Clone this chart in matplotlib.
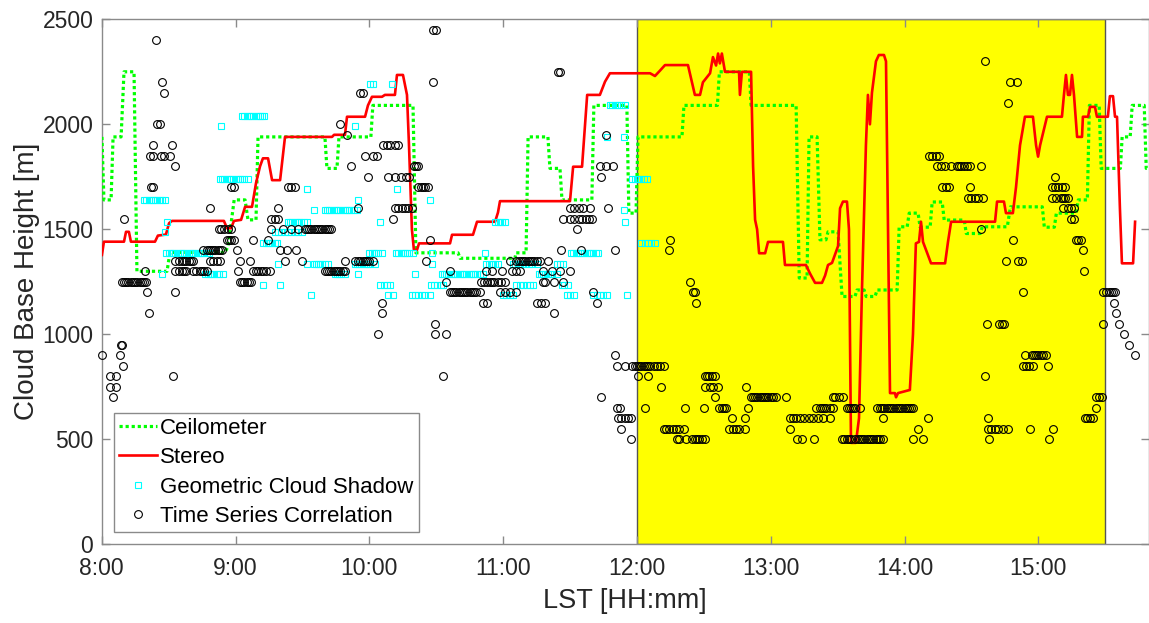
import matplotlib
matplotlib.use("Agg")
import matplotlib.pyplot as plt
import numpy as np

plt.rcParams['font.family'] = ['Liberation Sans', 'DejaVu Sans']

# ---------------- data (time in minutes after 08:00, height in m) ----------------
tick_minutes = [0, 60, 120, 180, 240, 300, 360, 420]
tick_labels = ['8:00', '9:00', '10:00', '11:00', '12:00', '13:00', '14:00', '15:00']
y_ticks = [0, 500, 1000, 1500, 2000, 2500]
shade_start, shade_end = 240, 450

ceil_t = [0.1, 1.0, 4.2, 5.1, 8.7, 10.0, 14.5, 15.8, 29.3, 30.6, 55.3, 56.7, 59.4, 64.3,
          65.6, 69.2, 70.1, 100.1, 101.0, 105.5, 106.4, 120.7, 121.6, 139.6, 140.9, 159.8,
          160.7, 185.3, 185.8, 190.3, 191.2, 200.1, 201.0, 205.5, 206.4, 219.8, 220.7,
          235.5, 236.4, 239.6, 240.5, 260.2, 261.1, 276.1, 277.0, 290.4, 291.2, 311.4,
          312.8, 316.3, 317.2, 320.8, 322.1, 324.8, 325.7, 330.2, 332.0, 337.8, 338.7,
          341.9, 342.8, 346.8, 347.7, 356.7, 357.6, 361.2, 362.1, 366.1, 367.0, 371.5,
          372.4, 376.9, 377.8, 386.8, 387.7, 394.0, 394.9, 406.1, 407.5, 421.8, 422.7,
          427.2, 428.1, 437.0, 437.9, 442.0, 442.9, 447.3, 448.2, 456.8, 457.6, 461.2,
          462.1, 467.5, 468.4, 470.6]
ceil_h = [1940, 1640, 1640, 1940, 1940, 2250, 2250, 1300, 1300, 1390, 1390, 1420, 1640, 1640,
          1545, 1545, 1940, 1940, 1790, 1790, 1940, 1940, 2090, 2090, 1388, 1388,
          1362, 1362, 1388, 1388, 1940, 1940, 1790, 1790, 1640, 1640, 2090,
          2090, 1577, 1577, 1940, 1940, 2090, 2090, 2250, 2250, 2090, 2090,
          1268, 1268, 1940, 1940, 1450, 1450, 1488, 1488, 1180, 1180, 1211,
          1211, 1180, 1180, 1211, 1211, 1512, 1512, 1577, 1577, 1510, 1510,
          1630, 1630, 1544, 1544, 1480, 1480, 1512, 1512, 1607, 1607, 1510,
          1510, 1577, 1577, 1640, 1640, 2090, 2090, 1790, 1790, 1940, 1940,
          2090, 2090, 1790, 1790]

stereo_t = [0.1, 1.0, 10.0, 10.9, 12.2, 13.1, 23.9, 25.2, 28.8, 30.2, 31.5, 54.8, 56.2, 58.0,
            59.3, 62.5, 64.3, 67.4, 69.2, 71.0, 72.3, 74.6, 76.4, 80.0, 82.2, 103.3, 104.2,
            109.1, 110.0, 118.1, 119.4, 121.2, 125.7, 127.0, 131.5, 132.4, 135.1, 136.9,
            137.8, 139.1, 140.0, 141.4, 142.3, 156.2, 157.1, 166.5, 168.3, 176.4, 177.7,
            178.6, 210.0, 211.4, 215.4, 217.7, 223.4, 225.7, 227.9, 245.9, 248.1, 250.3,
            252.6, 262.9, 264.7, 266.0, 268.3, 269.6, 272.8, 274.1, 275.5, 276.4, 277.2,
            278.1, 279.5, 285.8, 286.2, 287.1, 291.2, 292.1, 293.0, 293.9, 294.8, 297.5,
            298.8, 305.5, 306.4, 315.8, 317.6, 319.9, 323.0, 324.4, 325.7, 327.5, 330.2,
            331.1, 332.4, 334.2, 335.1, 336.0, 338.2, 339.6, 340.9, 342.7, 343.6, 344.5,
            345.4, 347.2, 348.5, 350.8, 351.7, 352.6, 353.5, 355.7, 356.2, 357.1, 362.4,
            363.8, 365.1, 366.5, 367.4, 368.3, 371.9, 378.2, 379.5, 380.9, 400.6, 401.5,
            404.6, 405.5, 408.6, 410.0, 411.8, 414.0, 417.6, 419.0, 419.9, 420.8, 421.7,
            423.9, 430.6, 431.5, 432.4, 433.3, 434.2, 435.1, 436.0, 437.4, 439.6, 440.0,
            442.3, 443.2, 445.4, 446.3, 451.2, 452.1, 453.5, 454.4, 455.3, 456.6, 457.5,
            462.5, 463.4]
stereo_h = [1378, 1441, 1441, 1488, 1488, 1441, 1441, 1470, 1475, 1529, 1540, 1540, 1505, 1505,
            1540, 1545, 1607, 1607, 1720, 1800, 1838, 1838, 1734, 1734, 1940, 1940, 1950,
            1950, 2036, 2036, 2090, 2131, 2131, 2140, 2140, 2235, 2235, 2140,
            1900, 1500, 1402, 1402, 1433, 1433, 1474, 1474, 1536, 1536, 1580,
            1634, 1634, 1798, 1798, 2140, 2140, 2203, 2243, 2243, 2230, 2255,
            2282, 2282, 2200, 2140, 2140, 2200, 2243, 2320, 2280, 2337, 2290,
            2337, 2250, 2250, 2140, 2250, 2250, 1800, 1545, 1500, 1386, 1386,
            1440, 1440, 1330, 1330, 1290, 1245, 1245, 1280, 1330, 1340, 1420,
            1600, 1632, 1632, 1500, 483, 483, 600, 1200, 1900, 2140, 2000,
            2150, 2300, 2330, 2330, 2300, 1500, 720, 720, 700, 720, 735,
            1000, 1433, 1440, 1536, 1440, 1338, 1338, 1440, 1536, 1536, 1632,
            1632, 1577, 1577, 1700, 1900, 2036, 2036, 1900, 1846, 1900, 1940,
            2036, 2036, 2140, 2235, 2140, 2140, 2235, 2140, 1940, 1940, 2036,
            2036, 2083, 2083, 2036, 2036, 2134, 2134, 2036, 2036, 1600, 1338,
            1338, 1536]

gcs_groups = [
    (2190, [120.5, 121.5, 130]),
    (2090, [228, 229, 230, 231, 232, 233, 234.5]),
    (2040, [63, 64, 65, 66, 67, 68, 69, 70, 71, 72, 73]),
    (1990, [53.5, 113.5]),
    (1940, [226.5, 234]),
    (1740, [53, 54, 55, 56, 57, 58, 59, 60, 61, 62, 63, 64, 65.5,
            238, 239, 240, 241, 242, 243, 244.5]),
    (1690, [92, 132.5]),
    (1640, [19, 20, 21, 22, 23, 24, 25, 26, 27, 28.5, 115, 147]),
    (1590, [95, 100, 101, 102, 103, 104, 105, 106, 107, 108, 109, 110, 111, 112, 113,
            114.5, 234]),
    (1535, [29.5, 83.5, 84.5, 85.5, 86.5, 87.5, 88.5, 89.5, 90.5, 92, 125, 176.5, 177.5,
            178.5, 179.5, 181, 234.5]),
    (1485, [28.5, 77.5, 79, 80.5, 82, 83.5, 85, 86.5, 88, 90]),
    (1435, [72.5, 73.5, 74.5, 75.5, 76.5, 77.5, 78.5, 242, 243.5, 245, 246.5, 248]),
    (1385, [29, 30, 31, 32, 33, 34, 35, 36, 37, 38, 39, 40, 41, 42, 43, 44, 45, 46, 47, 48,
            120, 121, 122, 123, 124, 125.5, 132, 133, 134, 135, 136, 137, 138, 139.5, 148,
            172, 210.5, 211.5, 212.5, 213.5, 214.5, 215.5, 216.5, 217.5, 218.5, 219.5,
            220.5, 221.5, 222.5]),
    (1335, [79, 92, 95, 96, 97, 98, 99, 100, 101.5, 113.5, 114.5, 115.5, 116.5, 117.5,
            118.5, 119.5, 120.5, 122.5, 148, 172.5, 173.5, 174.5, 175.5, 176.5, 177.5,
            184.5, 185.5, 186.5, 187.5, 188.5, 190, 191.5, 193, 195, 204, 205.5, 207]),
    (1285, [27, 46.5, 47.5, 48.5, 49.5, 50.5, 51.5, 52.5, 54.5, 104.5, 105.5, 106.5, 107.5,
            109, 115, 140.5, 152.5, 153.5, 154.5, 155.5, 156.5, 157.5, 158.5, 159.5, 160.5,
            161.5, 162.5, 163.5, 164.5, 165.5, 166.5, 167.5, 168.5, 169.5, 171, 196, 197,
            198, 199, 200, 201, 202, 204]),
    (1235, [72.5, 80, 125, 126.5, 128, 129.5, 147.5, 149, 150.5, 152, 153, 186, 187.5, 189,
            190.5, 192, 193.5, 206.5, 207.5, 209]),
    (1185, [94, 128.5, 130.5, 139, 140.5, 142, 143.5, 145, 147, 180, 181.5, 183, 184.5,
            208.5, 210, 212, 220.5, 222, 223.5, 225, 226.5, 235.5]),
]

tsc_groups = [
    (2450, [148.5, 150]),
    (2400, [24.5]),
    (2300, [396]),
    (2250, [204.5, 205.5]),
    (2200, [27, 148.5, 407.5, 410.5]),
    (2150, [28, 116, 117]),
    (2100, [406.5]),
    (2000, [25, 26, 107]),
    (1950, [110, 226]),
    (1900, [23, 31.5, 126, 128, 129.5, 131.5, 133]),
    (1850, [21.5, 23, 26.5, 28, 30.5, 118, 121.5, 123.5, 371, 372.5, 374, 375.5]),
    (1800, [33, 112, 140, 141, 142, 223.5, 226, 229.5, 374.5, 376.5, 378, 381, 383.5,
            384.5, 385.5, 386.5, 388, 389.5, 394.5]),
    (1750, [119.5, 128.5, 131.5, 134, 136.5, 138, 224, 427.5]),
    (1700, [22, 23, 58, 59.5, 83.5, 85, 86.5, 142, 143, 144, 145, 146.5, 377, 378.5, 380,
            389.5, 426, 427.5, 429, 430.5, 432]),
    (1650, [388.5, 390, 391.5, 393, 395, 426, 428, 430, 431, 432, 433.5]),
    (1600, [48.5, 79, 115, 131.5, 133, 134.5, 136, 137.5, 139, 210, 212, 214, 216, 219, 227,
            431, 433.5, 434.5, 436]),
    (1550, [10, 76, 77.5, 79, 130.5, 207, 210, 212, 214, 215.5, 217, 218.5, 220, 434.5,
            436]),
    (1500, [52.5, 53.5, 55, 56.5, 58, 76, 81.5, 85, 88, 91, 92, 93, 94, 95, 96, 97, 98, 99,
            100, 101, 102, 103, 213, 394.5]),
    (1450, [56, 57, 58, 59.5, 68, 74.5, 147, 255, 408.5, 437, 438, 439]),
    (1400, [45.5, 47, 48, 49, 50, 51, 52, 53, 54, 60.5, 80, 83, 87, 206, 215, 230, 254.5,
            440]),
    (1350, [33, 34.5, 36, 37, 38, 39, 40, 41, 48.5, 50, 51.5, 53, 62, 66.5, 82, 90, 109,
            113.5, 115, 116, 117, 118, 119, 120, 121.5, 145.5, 183, 186, 187, 188, 189, 190,
            191, 192, 193, 194, 195, 196.5, 200, 405.5, 411, 412.5]),
    (1300, [19.5, 33, 34.5, 36, 37, 38, 41, 42.5, 44, 45, 46, 47, 61, 68, 69, 70, 71.5,
            72.5, 73.5, 75.5, 100, 101, 102, 103, 104, 105, 106, 107, 108, 109, 156, 172.5,
            175, 179.5, 184, 186, 187.5, 198, 202, 205.5, 210, 440.5]),
    (1250, [9, 10, 11, 12, 13, 14, 15, 16, 17, 18, 19, 20, 62, 63, 64, 65, 66, 67, 154.5,
            170, 171.5, 173, 174, 175, 176, 177.5, 179, 181, 198, 199, 203, 207, 264]),
    (1200, [20.5, 33, 156, 157, 158, 159, 160, 161, 162, 163, 164, 165, 166, 167, 168,
            169.5, 178.5, 181, 183, 186, 220.5, 265, 266, 413, 449, 450.5, 451.5, 452.5,
            453.5, 454.5]),
    (1150, [125.5, 171, 173, 195, 197, 199, 222, 266.5, 454]),
    (1100, [21, 125.5, 203, 455]),
    (1050, [149.5, 397, 402.5, 403.5, 404.5, 449, 456]),
    (1000, [124, 149.5, 154.5, 458.5]),
    (950, [8.5, 9, 460.5]),
    (900, [0, 8, 230, 414, 417, 418, 419, 420, 421, 422, 423.5, 463.5]),
    (850, [9.5, 231, 234.5, 238, 239, 240, 241, 242, 243, 244, 245, 246, 247.5, 249, 250.5,
           252, 413, 414.5, 416, 417.5, 424.5]),
    (800, [3.5, 6.5, 32, 153, 240.5, 245, 270.5, 271.5, 272.5, 273.5, 275, 396]),
    (750, [3.5, 6.5, 251, 270.5, 273, 274, 276.5, 289]),
    (700, [5, 224, 275, 291, 292, 293, 294, 295, 296, 297, 298, 299, 300, 301, 302.5, 307,
           328, 329, 330.5, 332.5, 446, 447, 448.5]),
    (650, [231, 232.5, 243.5, 261.5, 270, 277, 278, 279, 280, 290, 320.5, 322, 323, 324,
           325, 326.5, 328, 334, 335, 336, 337, 338, 340, 347.5, 349, 350, 351, 352, 353,
           354, 355, 356, 357, 358, 359, 360, 361, 362, 363, 364, 446]),
    (600, [231.5, 233, 234.5, 236, 237.5, 282.5, 288.5, 308.5, 310, 311.5, 313, 315, 317,
           319, 321, 323.5, 326.5, 350.5, 370.5, 397.5, 441, 442, 443, 444.5]),
    (550, [233, 252, 253, 254.5, 256, 257.5, 259, 261, 281.5, 283, 284.5, 286, 288.5, 308.5,
           366, 397.5, 399, 400.5, 402, 404, 406.5, 416.5, 426.5]),
    (500, [237.5, 258, 259, 262, 264.5, 266, 267, 268, 269, 270.5, 312, 314, 319.5, 332,
           333, 334, 335, 336, 338, 339, 340, 341, 342, 343, 344, 345, 346, 347, 348, 349,
           350.5, 364, 368.5, 398, 425]),
]

# ---------------- figure ----------------
W, H = 1149, 623
fig = plt.figure(figsize=(W / 100, H / 100), dpi=100)
ax = fig.add_axes([101.7 / W, 1 - 544.3 / H, (1148.5 - 101.7) / W, (544.3 - 19.3) / H])

axis_gray = '#8a8a8a'
text_gray = '#262626'

ax.axvspan(shade_start, shade_end, facecolor='#ffff00', edgecolor='#555555', lw=1.0,
           zorder=0)

ax.plot(ceil_t, ceil_h, color='#00ff00', lw=2.3, dashes=(1.0, 0.9),
        dash_capstyle='butt', label='Ceilometer', zorder=3)
ax.plot(stereo_t, stereo_h, color='#ff0000', lw=1.9, label='Stereo', zorder=4)

gx = [t for h, ts in gcs_groups for t in ts]
gy = [h for h, ts in gcs_groups for t in ts]
ax.plot(gx, gy, ls='none', marker='s', ms=4.6, mfc='none', mec='#00ffff', mew=0.8,
        label='Geometric Cloud Shadow', zorder=5, clip_on=False)

tx = [t for h, ts in tsc_groups for t in ts]
ty = [h for h, ts in tsc_groups for t in ts]
ax.plot(tx, ty, ls='none', marker='o', ms=5.6, mfc='none', mec='black', mew=0.8,
        label='Time Series Correlation', zorder=6, clip_on=False)

ax.set_xlim(0, (1148.5 - 101.7) / 133.8 * 60)
ax.set_ylim(0, 2500)
ax.set_xticks(tick_minutes)
ax.set_xticklabels(tick_labels)
ax.set_yticks(y_ticks)

for s in ax.spines.values():
    s.set_color(axis_gray)
    s.set_linewidth(1.0)
ax.tick_params(direction='in', length=6, width=1.0, color=axis_gray, labelcolor=text_gray,
               labelsize=16.5, top=True, right=True)
ax.tick_params(axis='x', pad=9)
ax.tick_params(axis='y', pad=6)

ax.set_xlabel('LST [HH:mm]', fontsize=19.5, color=text_gray, labelpad=6)
ax.set_ylabel('Cloud Base Height [m]', fontsize=20, color=text_gray, labelpad=2)

leg = ax.legend(loc='lower left', bbox_to_anchor=(0.012, 0.0234), borderaxespad=0,
                fontsize=16, handlelength=1.7, handletextpad=0.15, labelspacing=0.38,
                borderpad=0.22, numpoints=1, fancybox=False, framealpha=1)
leg.get_frame().set_edgecolor(axis_gray)
leg.get_frame().set_linewidth(1.0)
for t in leg.get_texts():
    t.set_color('black')

fig.savefig('out.png', dpi=100)
